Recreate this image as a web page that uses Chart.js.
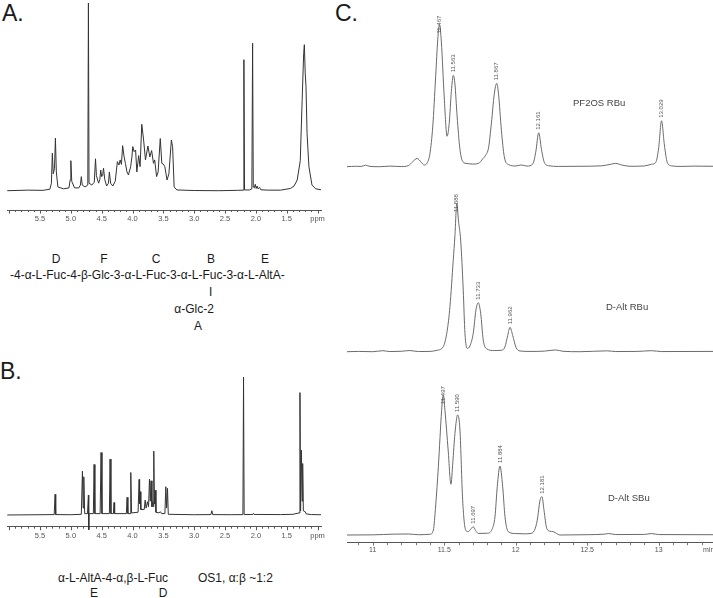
<!DOCTYPE html>
<html>
<head>
<meta charset="utf-8">
<script src="https://cdn.jsdelivr.net/npm/chart.js"></script>
<style>
body { margin: 0; width: 713px; height: 598px; position: relative; background: #fff; overflow: hidden;
       font-family: "Liberation Sans", Arial, sans-serif; color: #1a1a1a; }
canvas { position: absolute; }
.t { position: absolute; white-space: nowrap; line-height: 1; }
.big { font-size: 23px; }
.s { font-size: 12px; }
.c { transform: translateX(-50%); }
.tag { font-size: 9.5px; color: #444; }
</style>
</head>
<body>
<div class="t big" style="left:2px;top:2px">A.</div>
<div class="t big" style="left:0px;top:360px">B.</div>
<div class="t big" style="left:335px;top:2px">C.</div>

<canvas id="specA" width="330" height="230" style="left:0;top:0"></canvas>
<canvas id="specB" width="330" height="190" style="left:0;top:360px"></canvas>
<canvas id="chromTop" width="366" height="170" style="left:347px;top:10px"></canvas>
<canvas id="chromMid" width="366" height="180" style="left:347px;top:180px"></canvas>
<canvas id="chromBot" width="366" height="200" style="left:347px;top:360px"></canvas>

<!-- structure A -->
<div class="t s c" style="left:56px;top:253px">D</div>
<div class="t s c" style="left:104px;top:253px">F</div>
<div class="t s c" style="left:156px;top:253px">C</div>
<div class="t s c" style="left:211px;top:253px">B</div>
<div class="t s c" style="left:265px;top:253px">E</div>
<div class="t s" style="left:10px;top:269px">-4-α-L-Fuc-4-β-Glc-3-α-L-Fuc-3-α-L-Fuc-3-α-L-AltA-</div>
<div class="t s" style="left:209px;top:286px">I</div>
<div class="t s c" style="left:194px;top:303px">α-Glc-2</div>
<div class="t s c" style="left:198px;top:320px">A</div>

<!-- structure B -->
<div class="t s" style="left:58px;top:572px">α-L-AltA-4-α,β-L-Fuc</div>
<div class="t s" style="left:198px;top:572px">OS1, α:β ~1:2</div>
<div class="t s c" style="left:94px;top:587px">E</div>
<div class="t s c" style="left:163px;top:587px">D</div>

<div class="t tag" style="left:573px;top:98px">PF2OS RBu</div>
<div class="t tag" style="left:606px;top:302px">D-Alt RBu</div>
<div class="t tag" style="left:608px;top:493px">D-Alt SBu</div>
<div class="t" style="left:703px;top:546px;font-size:7px;color:#555">min</div>

<script>
// 1H NMR spectra: [ppm, relative intensity]
const spectrumA = [
  [6.03,0],[5.70,0.3],[5.45,0.2],[5.34,0.8],[5.315,4],[5.30,20],[5.285,9],[5.265,12],[5.25,28],[5.235,10],
  [5.21,2],[5.12,1],[5.03,1.5],[5.01,6],[5.00,16],[4.985,5],[4.94,1.5],[4.87,1.5],[4.845,3],[4.83,7.5],
  [4.815,3],[4.77,2],[4.725,3],[4.715,100],[4.705,4],[4.66,3],[4.62,4.5],[4.60,17],[4.585,8],[4.55,4],
  [4.53,6],[4.515,11],[4.50,7.5],[4.485,8],[4.47,12],[4.45,6],[4.42,2.5],[4.39,4],[4.375,10],[4.355,4],
  [4.32,2.5],[4.28,5],[4.26,11],[4.245,15.5],[4.22,13.7],[4.20,16.4],[4.18,14],[4.16,24],[4.136,18],[4.115,14.6],
  [4.09,10],[4.066,8.4],[4.03,12.8],[4.01,18],[3.996,23.5],[3.974,20.8],[3.95,21.7],[3.93,10],[3.90,18.7],[3.877,12.8],
  [3.85,35.4],[3.82,27],[3.79,16.4],[3.75,23.8],[3.72,18],[3.69,21.4],[3.66,14.6],[3.64,16.4],[3.61,7.5],[3.585,10],
  [3.55,27.8],[3.525,14.6],[3.50,14.2],[3.476,12.8],[3.44,5.7],[3.41,9],[3.37,27],[3.35,23.5],[3.325,2],[3.28,0.4],
  [3.0,0.1],[2.6,0],[2.30,0.2],[2.205,0.3],[2.194,69.8],[2.184,0.4],[2.10,0.4],[2.065,1],[2.053,78.6],[2.042,2],
  [2.025,1.5],[2.01,3.4],[1.995,1.2],[1.98,2.5],[1.965,1],[1.94,1.8],[1.92,0.5],[1.80,0.3],[1.60,0.3],[1.44,1.2],
  [1.38,2.5],[1.33,5.7],[1.28,16],[1.25,48],[1.225,73],[1.214,77.8],[1.20,62.6],[1.187,55.5],[1.17,30.6],[1.14,12.8],
  [1.09,3],[1.03,1],[0.944,0.5]
];

const spectrumB = [
  [6.03,0],[5.50,0.2],[5.27,0.3],[5.255,15],[5.245,0.3],[5.00,0.2],[4.83,0.5],[4.812,31.8],[4.80,5],[4.79,27.7],
  [4.775,1],[4.73,1],[4.715,14.5],[4.71,-10.8],[4.705,1],[4.635,1],[4.623,36.6],[4.61,1],[4.525,1],[4.51,45.3],
  [4.495,1],[4.375,1],[4.364,40.5],[4.35,1],[4.31,1],[4.30,9],[4.29,1],[4.10,1],[4.088,12.8],[4.075,1],
  [4.04,1],[4.028,30.8],[4.015,1.5],[3.91,2],[3.893,25.8],[3.885,8],[3.877,16.9],[3.865,4],[3.81,4],[3.795,10.8],
  [3.78,5],[3.758,9.6],[3.74,6],[3.725,26],[3.712,10],[3.70,24.8],[3.685,6],[3.67,9.6],[3.662,6],[3.655,46.3],
  [3.645,8],[3.633,18],[3.62,2],[3.57,1.5],[3.55,2.4],[3.53,1],[3.475,1],[3.46,20.5],[3.447,5],[3.433,19.3],
  [3.42,0.5],[3.0,0.2],[2.73,0.3],[2.713,3.1],[2.70,0.3],[2.40,0.2],[2.21,0.3],[2.20,100],[2.19,0.3],[2.05,0.4],
  [2.04,1.2],[2.03,0.4],[1.60,0.3],[1.40,0.5],[1.30,1.5],[1.285,88.7],[1.275,3],[1.262,47],[1.25,10],[1.241,37.3],
  [1.23,3],[1.20,2.4],[1.185,0.8],[1.10,0.3],[0.944,0.2]
];

// GC traces: [retention time (min), response]
const pf2osRBu = [
  [10.82,0],[10.88,0.3],[10.92,0.2],[10.95,1.1],[10.98,0.2],[11.05,0],[11.12,0.4],[11.20,0.1],[11.25,0.8],[11.28,3.5],
  [11.31,5.7],[11.34,3.0],[11.36,1.2],[11.38,2.5],[11.40,9],[11.42,28],[11.44,62],[11.455,88],[11.467,98],[11.48,86],
  [11.50,48],[11.52,21],[11.535,30],[11.55,52],[11.564,63],[11.575,57],[11.59,35],[11.61,12],[11.63,3.5],[11.66,2.2],
  [11.70,1.8],[11.74,2.3],[11.77,5.5],[11.79,8],[11.81,13],[11.83,30],[11.85,50],[11.867,57.5],[11.88,50],[11.90,25],
  [11.92,7],[11.95,1.5],[12.00,0.5],[12.04,1.2],[12.08,0.4],[12.12,2],[12.14,10],[12.161,23.4],[12.18,12],[12.20,3],
  [12.23,0.7],[12.30,0.2],[12.45,0.3],[12.60,0.6],[12.66,1.6],[12.70,2.3],[12.74,1.2],[12.80,0.3],[12.90,0.5],[12.95,1.7],
  [12.98,3],[13.00,13],[13.02,31.7],[13.04,15],[13.06,3],[13.09,0.6],[13.15,0.2],[13.25,0.4],[13.38,0.3]
];

const daltRBu = [
  [10.82,0],[10.90,0.2],[11.00,0],[11.07,0.7],[11.12,0.1],[11.20,0.3],[11.26,0.8],[11.32,0.1],[11.40,0.2],[11.45,1],
  [11.493,3.4],[11.52,14],[11.54,31],[11.563,63],[11.575,80],[11.588,102.5],[11.60,90],[11.615,77],[11.633,42.5],[11.645,12.7],
  [11.661,2.3],[11.68,4],[11.703,12.7],[11.722,28.8],[11.738,33.8],[11.755,26.5],[11.773,8],[11.797,2],[11.85,0.8],[11.90,1],
  [11.925,3.4],[11.944,11.2],[11.96,16.8],[11.979,11.2],[12.002,3],[12.03,0.5],[12.10,0.2],[12.20,0.4],[12.28,1.2],[12.33,0.3],
  [12.45,0],[12.64,0.6],[12.70,0.1],[12.85,0.2],[12.95,0.7],[13.02,0.1],[13.38,0.2]
];

const daltSBu = [
  [10.82,0],[11.00,0.1],[11.15,0.6],[11.25,0.7],[11.32,0.2],[11.40,0.5],[11.424,3.4],[11.44,20],[11.459,47],[11.482,86],
  [11.493,96.5],[11.505,86],[11.528,58],[11.547,35],[11.56,50],[11.575,70],[11.594,82.8],[11.61,72.4],[11.629,24],[11.65,3.4],
  [11.668,2.3],[11.685,4],[11.703,5.7],[11.72,3],[11.738,1.1],[11.80,1.2],[11.835,4],[11.855,12.6],[11.871,33.3],[11.89,47.6],
  [11.909,33.3],[11.925,12.6],[11.948,2.3],[12.00,1],[12.06,0.8],[12.10,1],[12.13,3],[12.151,10.3],[12.17,24],[12.184,26.4],
  [12.198,17],[12.217,4.6],[12.24,2.6],[12.263,2.3],[12.31,0],[12.50,0.2],[12.62,0.6],[12.65,1],[12.70,0.3],[12.90,0.4],
  [12.95,1],[13.00,0.3],[13.38,0.2]
];

// peak annotations
const topPeaks = [11.467, 11.563, 11.867, 12.161, 13.029];
const midPeaks = [11.588, 11.733, 11.962];
const botPeaks = [11.497, 11.590, 11.697, 11.884, 12.181];

// ruler ticks under the axis line
const rulerTicks = {
  id: 'rulerTicks',
  afterDraw(chart, args, opts) {
    if (!opts || !opts.show) return;
    const s = chart.scales.x, ctx = chart.ctx, y0 = chart.chartArea.bottom;
    ctx.save();
    ctx.strokeStyle = opts.color;
    ctx.lineWidth = 1;
    s.ticks.forEach(t => {
      const big = Math.abs(t.value * 2 - Math.round(t.value * 2)) < 1e-6;
      const px = Math.round(s.getPixelForValue(t.value)) + 0.5;
      ctx.beginPath();
      ctx.moveTo(px, y0);
      ctx.lineTo(px, y0 + (big ? opts.major : opts.minor));
      ctx.stroke();
    });
    ctx.restore();
  }
};

// vertical retention-time labels on peaks
const peakTags = {
  id: 'peakTags',
  afterDatasetsDraw(chart, args, opts) {
    if (!opts || !opts.times) return;
    const data = chart.data.datasets[0].data;
    const sx = chart.scales.x, sy = chart.scales.y, ctx = chart.ctx;
    ctx.save();
    ctx.font = '6px "Liberation Sans", Arial, sans-serif';
    ctx.fillStyle = '#555';
    ctx.textBaseline = 'middle';
    opts.times.forEach(t => {
      let best = null;
      data.forEach(p => {
        if (Math.abs(p.x - t) <= 0.015 && (!best || p.y > best.y)) best = p;
      });
      if (!best) return;
      const px = sx.getPixelForValue(best.x), py = sy.getPixelForValue(best.y);
      ctx.save();
      ctx.translate(px, py);
      ctx.rotate(-Math.PI / 2);
      if (best.y > 90) {
        ctx.textAlign = 'center';
        ctx.fillText(t.toFixed(3), 0, 0);
      } else {
        ctx.textAlign = 'left';
        ctx.fillText(t.toFixed(3), 3, 0);
      }
      ctx.restore();
    });
    ctx.restore();
  }
};

Chart.register(rulerTicks, peakTags);

function toXY(pairs) {
  return pairs.map(p => ({ x: p[0], y: p[1] }));
}

function nmrLabel(v) {
  const r = Math.round(v * 2) / 2;
  if (Math.abs(v - r) > 1e-6 || v > 5.9) return '';
  if (Math.abs(v - 1) < 1e-6) return 'ppm';
  return v.toFixed(1);
}

function minLabel(v) {
  const r = Math.round(v * 2) / 2;
  if (Math.abs(v - r) > 1e-6) return '';
  return String(r);
}

function makeChart(id, pairs, o) {
  return new Chart(document.getElementById(id), {
    type: 'line',
    data: {
      datasets: [{
        data: toXY(pairs),
        borderColor: o.color,
        borderWidth: 1,
        pointRadius: 0,
        tension: 0,
        cubicInterpolationMode: o.smooth ? 'monotone' : 'default',
        clip: false
      }]
    },
    options: {
      responsive: false,
      animation: false,
      devicePixelRatio: 1,
      layout: { padding: o.pad },
      plugins: {
        legend: { display: false },
        tooltip: { enabled: false },
        rulerTicks: o.ruler || {},
        peakTags: o.tags || {}
      },
      scales: {
        x: {
          type: 'linear',
          min: o.xmin,
          max: o.xmax,
          reverse: !!o.reverse,
          display: !!o.axis,
          afterFit: s => { if (o.axis) s.height = o.axisH; },
          ticks: {
            stepSize: 0.1,
            maxTicksLimit: 1000,
            autoSkip: false,
            includeBounds: false,
            maxRotation: 0,
            minRotation: 0,
            padding: o.labelPad || 4,
            color: '#555',
            font: { family: '"Liberation Sans", Arial, sans-serif', size: o.labelSize || 7.5 },
            callback: o.label
          },
          grid: { display: true, drawOnChartArea: false, drawTicks: false, color: '#555' },
          border: { display: true, color: '#555', width: 1 }
        },
        y: { display: false, min: o.ymin, max: o.ymax }
      }
    }
  });
}

makeChart('specA', spectrumA, {
  color: '#333', xmin: 0.944, xmax: 6.035, reverse: true, axis: true, axisH: 20,
  pad: { left: 7, right: 9, top: 3, bottom: 0 }, ymin: -10.28, ymax: 100,
  label: nmrLabel, labelPad: 4.5, ruler: { show: true, color: '#555', major: 3.5, minor: 2 }
});

makeChart('specB', spectrumB, {
  color: '#333', xmin: 0.944, xmax: 6.035, reverse: true, axis: true, axisH: 23.3,
  pad: { left: 7, right: 9, top: 17, bottom: 0 }, ymin: -8.48, ymax: 100,
  label: nmrLabel, labelPad: 5, ruler: { show: true, color: '#555', major: 3.5, minor: 2 }
});

makeChart('chromTop', pf2osRBu, {
  color: '#6a6a6a', smooth: true, xmin: 10.82, xmax: 13.38, axis: false,
  pad: 0, ymin: -9.17, ymax: 108.07, tags: { times: topPeaks }
});

makeChart('chromMid', daltRBu, {
  color: '#6a6a6a', smooth: true, xmin: 10.82, xmax: 13.38, axis: false,
  pad: 0, ymin: -5.72, ymax: 118.4, tags: { times: midPeaks }
});

makeChart('chromBot', daltSBu, {
  color: '#6a6a6a', smooth: true, xmin: 10.82, xmax: 13.38, axis: true, axisH: 17.3,
  pad: 0, ymin: -5.31, ymax: 120.7, tags: { times: botPeaks },
  label: minLabel, labelPad: 3.3, labelSize: 7, ruler: { show: true, color: '#777', major: 3, minor: 2.5 }
});
</script>
</body>
</html>
